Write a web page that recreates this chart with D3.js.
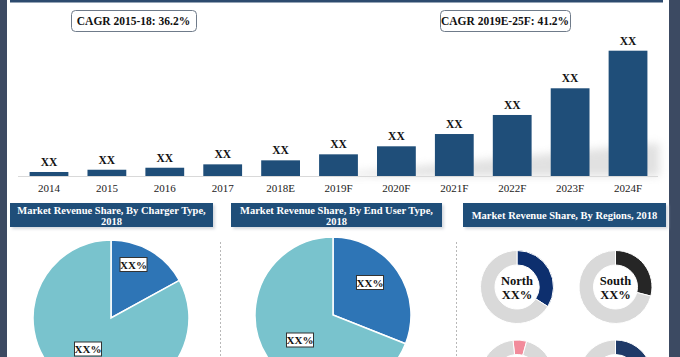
<!DOCTYPE html>
<html><head><meta charset="utf-8">
<script src="https://cdn.jsdelivr.net/npm/d3@7"></script>
<style>
html,body{margin:0;padding:0;background:#fff;}
svg{display:block;}
text{font-family:"Liberation Serif","DejaVu Serif",serif;}
</style></head>
<body>
<svg id="c" width="680" height="357"></svg>
<script>
// ---- data ----
const years = ["2014","2015","2016","2017","2018E","2019F","2020F","2021F","2022F","2023F","2024F"];
const revenue = [3.2, 5.0, 6.6, 9.3, 12.5, 17.3, 23.7, 33.5, 48.7, 70.0, 100];
const barLabels = ["XX","XX","XX","XX","XX","XX","XX","XX","XX","XX","XX"];
const cagrLabels = ["CAGR 2015-18: 36.2%", "CAGR 2019E-25F: 41.2%"];
const panelTitles = [["Market Revenue Share, By  Charger Type,", "2018"], ["Market Revenue Share, By End User Type,", "2018"], ["Market Revenue Share, By Regions, 2018"]];
const chargerShares = [17, 83];
const endUserShares = [31, 69];
const pieLabels = ["XX%", "XX%"];
const regionNames = ["North", "South", "", ""];
const regionShares = [34, 29, 6, 40];
const regionLabel = "XX%";

const svg = d3.select("#c");
const navy = "#1f4e79";

// frame
svg.append("rect").attr("x",0).attr("y",0).attr("width",7).attr("height",357).attr("fill","#3c4a62");
svg.append("rect").attr("x",669).attr("y",0).attr("width",11).attr("height",357).attr("fill","#3c4a62");
svg.append("rect").attr("x",10).attr("y",0).attr("width",653).attr("height",2.5).attr("fill","#2d4a6e");

const defs = svg.append("defs");
defs.append("filter").attr("id","blur").attr("x","-20%").attr("y","-50%").attr("width","140%").attr("height","200%")
  .append("feGaussianBlur").attr("stdDeviation",4);
defs.append("filter").attr("id","sh").append("feGaussianBlur").attr("stdDeviation",1.5);

// ---- bar chart ----
const x = d3.scaleBand().domain(years).range([18, 659]).paddingInner(0.33).paddingOuter(0.2);
const y = d3.scaleLinear().domain([0, 100]).range([176, 50.7]);

// decorative shadow ramp
svg.append("path").attr("d", `M${x("2019F")},176 L${x("2024F")+x.bandwidth()+12},143 L${x("2024F")+x.bandwidth()+12},176 Z`)
  .attr("fill","#bdbdbd").attr("opacity",0.45).attr("filter","url(#blur)");

svg.append("line").attr("x1",18).attr("x2",658).attr("y1",176.5).attr("y2",176.5).attr("stroke","#d9d9d9").attr("stroke-width",1);

svg.selectAll("rect.bar").data(revenue).join("rect").attr("class","bar")
  .attr("x",(d,i)=>x(years[i])).attr("width",x.bandwidth())
  .attr("y",d=>y(d)).attr("height",d=>176-y(d)).attr("fill",navy);

svg.selectAll("text.bl").data(revenue).join("text").attr("class","bl")
  .attr("x",(d,i)=>x(years[i])+x.bandwidth()/2).attr("y",d=>y(d)-6)
  .attr("text-anchor","middle").attr("font-size",11.5).attr("font-weight","bold").attr("fill","#111")
  .text((d,i)=>barLabels[i]);

const xAxis = svg.append("g").attr("transform","translate(0,176)")
  .call(d3.axisBottom(x).tickSize(0).tickPadding(8));
xAxis.select(".domain").remove();
xAxis.selectAll("text").attr("font-size",11).attr("fill","#222").attr("font-family","Liberation Serif, serif");

// CAGR boxes
const cagrBoxes = [{x:71,w:125},{x:440,w:130}];
cagrLabels.forEach((t,i)=>{
  const b = cagrBoxes[i];
  svg.append("rect").attr("x",b.x+0.5).attr("y",10.5).attr("width",b.w).attr("height",21).attr("rx",4)
    .attr("fill","#fff").attr("stroke","#6f7b8a").attr("stroke-width",1);
  svg.append("text").attr("x",b.x+b.w/2).attr("y",25).attr("text-anchor","middle")
    .attr("font-size",11.5).attr("font-weight","bold").attr("fill","#111").text(t);
});

// ---- panel titles ----
const titleBoxes = [{x:10,w:203},{x:231,w:211},{x:463,w:203}];
panelTitles.forEach((lines,i)=>{
  const b = titleBoxes[i];
  svg.append("rect").attr("x",b.x+2).attr("y",205).attr("width",b.w).attr("height",24).attr("fill","#d4d8de").attr("filter","url(#sh)");
  svg.append("rect").attr("x",b.x).attr("y",203).attr("width",b.w).attr("height",24).attr("fill",navy);
  const tx = svg.append("text").attr("text-anchor","middle").attr("font-size",10.5).attr("font-weight","bold").attr("fill","#fff");
  if(lines.length===2){
    lines.forEach((l,j)=>tx.append("tspan").attr("x",b.x+b.w/2).attr("y",213.5+j*11.5).text(l));
  } else {
    tx.attr("x",b.x+b.w/2).attr("y",219).text(lines[0]);
  }
});

// dashed separators
[220.5, 456.5].forEach(xx=>{
  svg.append("line").attr("x1",xx).attr("x2",xx).attr("y1",242).attr("y2",357)
    .attr("stroke","#b8b8b8").attr("stroke-dasharray","2,2").attr("stroke-width",1);
});

// ---- pies ----
const pieColors = ["#2e75b6", "#79c3cd"];
const pie = d3.pie().sort(null).value(d=>d);
function drawPie(cx, cy, r, shares, labelPos){
  const g = svg.append("g").attr("transform",`translate(${cx},${cy})`);
  const arc = d3.arc().innerRadius(0).outerRadius(r);
  const arcs = pie(shares);
  g.selectAll("path").data(arcs).join("path").attr("d",arc)
    .attr("fill",(d,i)=>pieColors[i]).attr("stroke","#fff").attr("stroke-width",1.5);
  arcs.forEach((a,i)=>{
    const [lx,ly] = labelPos[i];
    const lg = g.append("g").attr("transform",`translate(${lx},${ly})`);
    lg.append("rect").attr("x",-13.5).attr("y",-7).attr("width",27).attr("height",14)
      .attr("fill","#fff").attr("stroke","#333").attr("stroke-width",1);
    lg.append("text").attr("y",4).attr("text-anchor","middle").attr("font-size",11)
      .attr("font-weight","bold").attr("fill","#111").text(pieLabels[i]);
  });
}
drawPie(111, 318, 78, chargerShares, [[22.5,-53.5],[-23,31]]);
drawPie(333, 315, 78, endUserShares, [[37,-32.5],[-33,25]]);

// ---- region donuts ----
const donutPos = [[517,287],[615.5,287],[517,376.5],[615.5,376.5]];
const donutColors = ["#0d2f6e","#262626","#f28b9b","#1f3a68"];
const donutRot = [0,0,-0.11,0];
regionShares.forEach((s,i)=>{
  const [cx,cy] = donutPos[i];
  const g = svg.append("g").attr("transform",`translate(${cx},${cy})`);
  const arc = d3.arc().innerRadius(22).outerRadius(36.5);
  const p = d3.pie().sort(null).value(d=>d).startAngle(donutRot[i]).endAngle(donutRot[i]+2*Math.PI);
  g.selectAll("path").data(p([s,100-s])).join("path").attr("d",arc)
    .attr("fill",(d,j)=>j===0?donutColors[i]:"#d9d9d9").attr("stroke","#fff").attr("stroke-width",1);
  if(regionNames[i]){
    g.append("text").attr("y",-2).attr("text-anchor","middle").attr("font-size",12.5).attr("font-weight","bold").attr("fill","#111").text(regionNames[i]);
    g.append("text").attr("y",12).attr("text-anchor","middle").attr("font-size",12.5).attr("font-weight","bold").attr("fill","#111").text(regionLabel);
  }
});
</script>
</body></html>
